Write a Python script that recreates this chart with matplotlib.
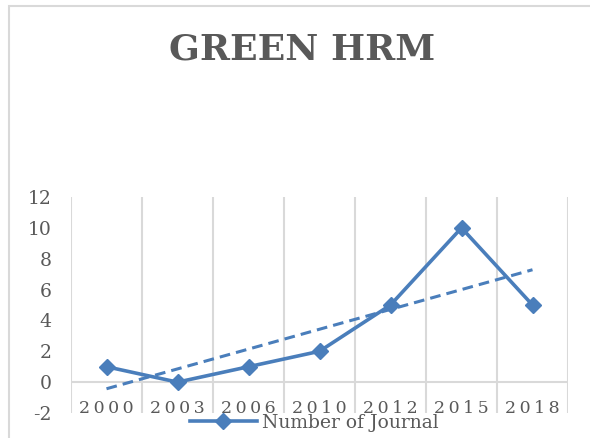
import numpy as np
import matplotlib.pyplot as plt
from matplotlib.patches import Rectangle

plt.rcParams["axes.unicode_minus"] = False

# data
years = ["2000", "2003", "2006", "2010", "2012", "2015", "2018"]
journals = [1, 0, 1, 2, 5, 10, 5]

BLUE = "#4a7ebb"
GRID = "#d9d9d9"
TEXT = "#595959"
FONT = "DejaVu Serif"

fig = plt.figure(figsize=(5.9, 4.38), dpi=100)

# chart area border (only left/top visible in the reference)
fig.patches.append(Rectangle((9 / 590, -0.2), 1.2, 1.2 - 6 / 438,
                             transform=fig.transFigure, fill=False,
                             edgecolor=GRID, linewidth=1.5))

ax = fig.add_axes([71 / 590, 1 - 413 / 438, (568 - 71) / 590, (413 - 197) / 438])

x = np.arange(1, len(years) + 1)
ax.plot(x, journals, color=BLUE, lw=2.6, marker="D", ms=8,
        label="Number of Journal", zorder=3)

# linear trendline
coef = np.polyfit(x, journals, 1)
ax.plot(x, np.polyval(coef, x), color=BLUE, lw=2.2, ls=(0, (3.5, 2)), zorder=3)

ax.set_xlim(0.5, len(years) + 0.5)
ax.set_ylim(-2, 12)
ax.set_yticks(range(-2, 13, 2))

# vertical gridlines between categories
ax.set_xticks(np.arange(0.5, len(years) + 1), minor=True)
ax.set_xticks([])
ax.grid(True, which="minor", axis="x", color=GRID, lw=1.5)
ax.axhline(0, color=GRID, lw=1.5, zorder=1)

for s in ax.spines.values():
    s.set_visible(False)
ax.tick_params(axis="y", length=0, pad=14, labelsize=13.5, labelcolor=TEXT)
ax.tick_params(axis="x", which="both", length=0)
for lab in ax.get_yticklabels():
    lab.set_family(FONT)

# spaced-out year labels sitting just under the zero line
for xi, yr in zip(x, years):
    ax.text(xi, -1.72, "\u2009".join(yr), ha="center", va="center",
            fontsize=12.5, color=TEXT, family=FONT)

fig.text(302 / 590, 1 - 50 / 438, "GREEN HRM",
         ha="center", va="center", fontsize=26, fontweight="bold",
         color=TEXT, family=FONT)

fig.legend(loc="center", bbox_to_anchor=(314 / 590, 1 - 423 / 438),
           frameon=False, handlelength=3.6, handletextpad=0.25,
           prop={"family": FONT, "size": 13.5}, labelcolor=TEXT,
           borderpad=0, borderaxespad=0)

fig.savefig("out.png", dpi=100)
